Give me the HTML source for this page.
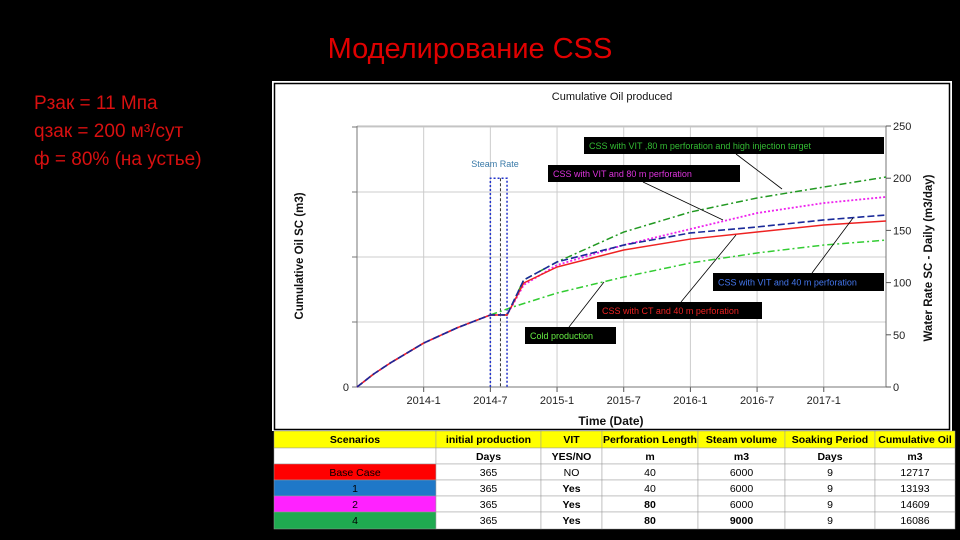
<!DOCTYPE html>
<html><head><meta charset="utf-8"><style>
html,body{margin:0;padding:0;background:#000;width:960px;height:540px;overflow:hidden}
svg{display:block}
text{font-family:"Liberation Sans",sans-serif}
.ru{font-family:"Liberation Sans","DejaVu Sans",sans-serif}
</style></head><body>
<svg id="s" width="960" height="540" xmlns="http://www.w3.org/2000/svg">
<text class="ru" x="470" y="58" text-anchor="middle" font-size="29" fill="#e00000">Моделирование CSS</text>
<g class="ru" font-size="19" fill="#d81010">
<text x="34" y="109">Рзак = 11 Мпа</text>
<text x="34" y="137">qзак = 200 м³/сут</text>
<text x="34" y="165">ф = 80% (на устье)</text>
</g>
<rect x="272" y="81" width="680" height="350" fill="#fff"/>
<rect x="274.5" y="83.5" width="675" height="346" fill="none" stroke="#000" stroke-width="1.5"/>
<text x="612" y="100" text-anchor="middle" font-size="11" fill="#111">Cumulative Oil produced</text>
<g id="plot"></g>
<g id="tbl"></g>
</svg>
<script>
const NS='http://www.w3.org/2000/svg';
const tickLabels=['2014-1','2014-7','2015-1','2015-7','2016-1','2016-7','2017-1'];
const tickMonths=[6,12,18,24,30,36,42];
const rightTicks=[0,50,100,150,200,250];
const months=[0,1.5,3,6,9,12,13.5,15,18,24,30,36,42,47.6];
const baseCase=[0,1000,1850,3380,4550,5540,5540,8000,9230,10540,11380,11920,12460,12770];
const case1=[0,1000,1850,3380,4550,5540,5540,8230,9620,10920,11850,12310,12850,13230];
const case2=[0,1000,1850,3380,4550,5540,5540,7850,9380,10920,12150,13380,14150,14620];
const case4=[0,1000,1850,3380,4550,5540,5540,8230,9620,11920,13460,14540,15380,16150];
const coldMonths=[12,14,18,24,30,36,42,47.6];
const cold=[5540,6150,7230,8460,9540,10310,10920,11300];
const steamMonths=[12,12,13.5,13.5];
const steamRate=[0,200,200,0];
const X=m=>357+m*(529/47.6);
const Y=v=>387-v/5000*65;
const YR=v=>387-v/250*261;
const plot=document.getElementById('plot');
function el(t,a,p){const e=document.createElementNS(NS,t);for(const k in a)e.setAttribute(k,a[k]);(p||plot).appendChild(e);return e;}
for(let i=1;i<=4;i++){const g=el('line',{x1:357,x2:886,y1:Y(i*5000),y2:Y(i*5000),stroke:'#ccc','stroke-width':1});

}
tickMonths.forEach((m,i)=>{const g=el('line',{x1:X(m),x2:X(m),y1:126,y2:387,stroke:'#ccc','stroke-width':1});


el('line',{x1:X(m),x2:X(m),y1:387,y2:392,stroke:'#555'});
const t=el('text',{x:X(m),y:404,'text-anchor':'middle','font-size':11,fill:'#222'});t.textContent=tickLabels[i];

});
el('line',{x1:357,x2:886,y1:126,y2:126,stroke:'#bbb'});
el('line',{x1:357,x2:357,y1:126,y2:387,stroke:'#777'});
el('line',{x1:357,x2:886,y1:387,y2:387,stroke:'#777'});
el('line',{x1:886,x2:886,y1:126,y2:387,stroke:'#777'});
for(let i=0;i<=4;i++)el('line',{x1:352,x2:357,y1:Y(i*5000),y2:Y(i*5000),stroke:'#777'});
let t0=el('text',{x:349,y:391,'text-anchor':'end','font-size':11,fill:'#222'});t0.textContent='0';
rightTicks.forEach(v=>{el('line',{x1:886,x2:891,y1:YR(v),y2:YR(v),stroke:'#555'});
const t=el('text',{x:893,y:YR(v)+4,'font-size':11,fill:'#222'});t.textContent=v;

});
let yl=el('text',{x:0,y:0,transform:'translate(303,256) rotate(-90)','text-anchor':'middle','font-size':11.5,'font-weight':'bold',fill:'#111'});yl.textContent='Cumulative Oil SC (m3)';


let yr=el('text',{x:0,y:0,transform:'translate(932,258) rotate(-90)','text-anchor':'middle','font-size':11.5,'font-weight':'bold',fill:'#111'});yr.textContent='Water Rate SC - Daily (m3/day)';


let xl=el('text',{x:611,y:425,'text-anchor':'middle','font-size':12,'font-weight':'bold',fill:'#111'});xl.textContent='Time (Date)';


let sp=el('polyline',{points:steamMonths.map((m,i)=>X(m)+','+YR(steamRate[i])).join(' '),fill:'none',stroke:'#2233cc','stroke-width':1.5,'stroke-dasharray':'2,2'});


el('line',{x1:X(12.9),x2:X(12.9),y1:YR(200),y2:387,stroke:'#000','stroke-dasharray':'3,2','stroke-width':0.8});
function line(xs,ys,col,dash,w,name){const p=el('polyline',{points:xs.map((m,i)=>X(m)+','+Y(ys[i])).join(' '),fill:'none',stroke:col,'stroke-width':w,'stroke-dasharray':dash,'stroke-linejoin':'round'});

}
line(coldMonths,cold,'#33cc33','7,3,2,3',1.5,'cold-production-line');
line(months,case4,'#229922','7,3,2,3',1.5,'case4-line');
line(months,case2,'#ee22ee','2,2',1.8,'case2-line');
line(months,baseCase,'#ee2222','',1.5,'base-case-line');
line(months,case1,'#1a2a99','7,3',1.6,'case1-line');
let st=el('text',{x:495,y:167,'text-anchor':'middle','font-size':9,fill:'#3a7aa8'});st.textContent='Steam Rate';


function ann(x,y,w,h,txt,col,ax1,ay1,ax2,ay2,name){
el('line',{x1:ax1,y1:ay1,x2:ax2,y2:ay2,stroke:'#000','stroke-width':0.8});
const r=el('rect',{x:x,y:y,width:w,height:h,fill:'#000'});


const t=el('text',{x:x+5,y:y+h/2+3.5,'font-size':9,fill:col});t.textContent=txt;}
ann(584,137,300,17,'CSS with VIT ,80 m perforation and high injection target','#33bb33',736,154,782,189,'annotation-case4');
ann(548,165,192,17,'CSS with VIT and 80 m perforation','#dd33dd',643,182,723,220,'annotation-case2');
ann(713,273,171,18,'CSS with VIT and 40 m perforation','#4477ee',812,273,853,218,'annotation-case1');
ann(597,302,165,17,'CSS with CT and 40 m perforation','#ee2222',681,302,736,235,'annotation-base-case');
ann(525,327,91,17,'Cold production','#66ee44',569,327,604,282,'annotation-cold');
const tbl=document.getElementById('tbl');
const colX=[274,436,541,602,698,785,875,955];
const rowY=[431,448,464,480,496,512,529];
const rows=[['Scenarios','initial production','VIT','Perforation Length','Steam volume','Soaking Period','Cumulative Oil'],
['','Days','YES/NO','m','m3','Days','m3'],
['Base Case','365','NO','40','6000','9','12717'],
['1','365','Yes','40','6000','9','13193'],
['2','365','Yes','80','6000','9','14609'],
['4','365','Yes','80','9000','9','16086']];
const fills=['#ffff00','#fff','#ff0000','#1f78c8','#ff22ff','#1faa50'];
rows.forEach((r,ri)=>{r.forEach((c,ci)=>{
const f=(ci==0||ri==0)?fills[ri]:'#fff';
const rc=el('rect',{x:colX[ci],y:rowY[ri],width:colX[ci+1]-colX[ci],height:rowY[ri+1]-rowY[ri],fill:f,stroke:'#999','stroke-width':0.5},tbl);


const bold=ri<2||(ci==2&&ri>2)||(ci==3&&ri>3)||(ci==4&&ri==5);
const t=el('text',{x:(colX[ci]+colX[ci+1])/2,y:rowY[ri]+12,'text-anchor':'middle','font-size':10.5,fill:'#000','font-weight':bold?'bold':'normal'},tbl);
t.textContent=c;});});
</script>
</body></html>
